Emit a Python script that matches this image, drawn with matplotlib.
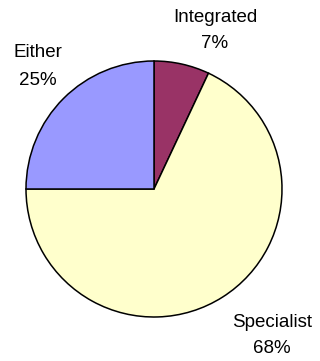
import matplotlib
matplotlib.use("Agg")
import matplotlib.pyplot as plt

# Share of respondents by preferred provider type
categories = ["Integrated", "Specialist", "Either"]
shares = [7, 68, 25]
colors = ["#993366", "#FFFFCC", "#9999FF"]

W, H = 320, 361
fig = plt.figure(figsize=(W / 100, H / 100), dpi=100)
ax = fig.add_axes([0, 0, 1, 1])

cx, cy, r = 154, H - 189, 128
ax.pie(shares, colors=colors, startangle=90, counterclock=False,
       center=(cx, cy), radius=r,
       wedgeprops=dict(edgecolor="black", linewidth=1.1))
ax.set_xlim(0, W)
ax.set_ylim(0, H)
ax.set_aspect("auto")
ax.axis("off")

# label anchors: (x centre, baseline of name, baseline of percentage) in pixels
label_pos = {
    "Integrated": (215, 21.7, 48.3),
    "Specialist": (272, 326.7, 353.3),
    "Either": (37.5, 56.7, 85),
}
font = dict(family="Liberation Sans", size=13.5, color="black",
            ha="center", va="baseline")
for name, val in zip(categories, shares):
    x, y1, y2 = label_pos[name]
    ax.text(x, H - y1, name, **font)
    ax.text(x, H - y2, f"{val}%", **font)

fig.savefig("out.png", dpi=100)
